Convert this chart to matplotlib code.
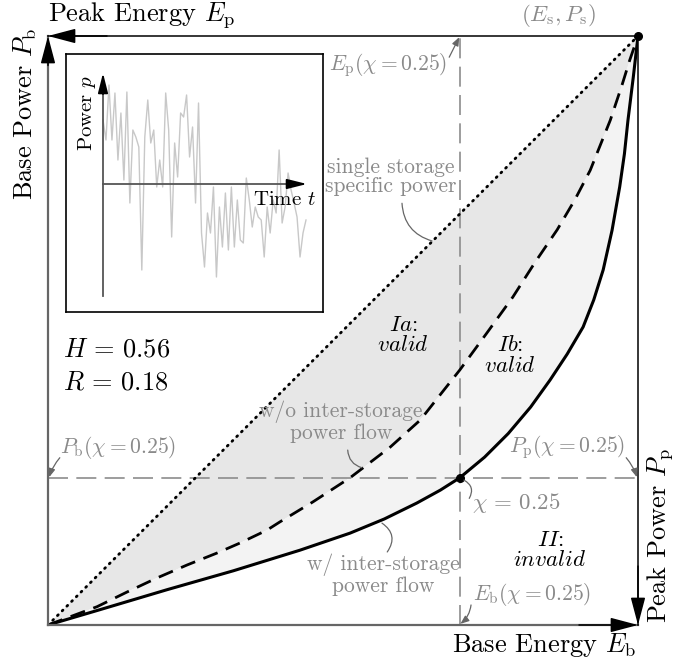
import numpy as np
import matplotlib
matplotlib.use("Agg")
import matplotlib.pyplot as plt

plt.rcParams['font.family'] = 'serif'
plt.rcParams['font.serif'] = ['cmr10']
plt.rcParams['mathtext.fontset'] = 'cm'
plt.rcParams['axes.formatter.use_mathtext'] = True

# normalised curves (x = base energy, y = base power)
single_x = [0.0, 1.0]
single_y = [0.0, 1.0]

noflow_x = [0.0, 0.083, 0.134, 0.185, 0.236, 0.286, 0.325, 0.371, 0.393, 0.449,
            0.512, 0.580, 0.631, 0.664, 0.698, 0.744, 0.788, 0.825, 0.863, 0.893,
            0.919, 0.953, 0.973, 0.986, 1.0]
noflow_y = [0.0, 0.031, 0.056, 0.080, 0.102, 0.122, 0.139, 0.161, 0.175, 0.209,
            0.250, 0.302, 0.348, 0.390, 0.433, 0.496, 0.557, 0.615, 0.671, 0.722,
            0.772, 0.857, 0.917, 0.959, 1.0]

flow_x = [0.0, 0.088, 0.202, 0.314, 0.427, 0.512, 0.570, 0.625, 0.665, 0.698,
          0.740, 0.780, 0.818, 0.851, 0.880, 0.907, 0.925, 0.941, 0.956, 0.969,
          0.977, 0.983, 0.992, 1.0]
flow_y = [0.0, 0.026, 0.060, 0.092, 0.127, 0.156, 0.180, 0.207, 0.229, 0.250,
          0.285, 0.325, 0.370, 0.416, 0.460, 0.506, 0.552, 0.603, 0.670, 0.744,
          0.800, 0.857, 0.930, 1.0]

chi_x = 0.698
chi_y = 0.25

# inset power signal (relative units, one sample every ~3 px)
power = [64, 44, 99, 44, 91, 24, 71, 4, 92, -19, 54, 47, 37, -86, 47, 84, 41, 54,
         -3, 24, -3, 91, 54, -53, 41, 7, 71, 67, 89, 27, 57, -19, 81, -49,
         -83, -29, -49, -3, -93, -23, -63, -9, -66, -3, -63, -16, -56, -59, 6, -16,
         -43, -23, -33, -36, -73, -23, -49, -16, -29, 34, -39, -23, 11, -6, -19,
         -33, -73, -49, -36]

gray_txt = '#8a8a8a'
gray_ln = '#666666'

fig = plt.figure(figsize=(6.97, 6.64), dpi=100)
ax = fig.add_axes([48/697, 39/664, 590/697, 589/664])
ax.set_xlim(0, 1)
ax.set_ylim(0, 1)
ax.axis('off')

# shaded regions
ax.fill(noflow_x, noflow_y, color='#e7e7e7', lw=0, zorder=1)
ax.fill(noflow_x + flow_x[::-1], noflow_y + flow_y[::-1], color='#f3f3f3', lw=0, zorder=1)

# chi = 0.25 guides
ax.axhline(chi_y, color='#8c8c8c', lw=1.2, dashes=(12, 5), zorder=2)
ax.axvline(chi_x, color='#8c8c8c', lw=1.2, dashes=(12, 5), zorder=2)

ax.plot(single_x, single_y, color='black', lw=2.0, ls=(0, (0.4, 2.0)),
        dash_capstyle='round', zorder=3)
ax.plot(noflow_x, noflow_y, color='black', lw=2.0, dashes=(5.5, 3.2), zorder=3)
ax.plot(flow_x, flow_y, color='black', lw=2.2, zorder=3)
ax.plot([1, chi_x], [1, chi_y], 'o', color='black', ms=5.5, zorder=5, clip_on=False)

# frame
ax.plot([0, 0], [0, 1], color=gray_ln, lw=1.6, clip_on=False, zorder=4)
ax.plot([0, 1], [0, 0], color=gray_ln, lw=1.6, clip_on=False, zorder=4)
ax.plot([0, 1], [1, 1], color='black', lw=1.1, clip_on=False, zorder=4)
ax.plot([1, 1], [0, 1], color='black', lw=1.1, clip_on=False, zorder=4)
head = dict(arrowstyle='-|>,head_length=1.7,head_width=0.45', color='black',
            lw=1.1, shrinkA=0, shrinkB=0)
ax.annotate('', xy=(0, 1), xytext=(0.1, 1), arrowprops=head, zorder=6)
ax.annotate('', xy=(0, 1), xytext=(0, 0.95), arrowprops=head, zorder=6)
ax.annotate('', xy=(1, 0), xytext=(0.9, 0), arrowprops=head, zorder=6)
ax.annotate('', xy=(1, 0), xytext=(1, 0.1), arrowprops=head, zorder=6)

# axis labels
big = 19
ax.text(0.0, 1.035, r'Peak Energy $E_\mathrm{p}$', fontsize=big, ha='left', va='center')
ax.text(-0.039, 1.015, r'Base Power $P_\mathrm{b}$', fontsize=big, ha='center', va='top',
        rotation=90)
ax.text(0.998, -0.034, r'Base Energy $E_\mathrm{b}$', fontsize=big, ha='right', va='center')
ax.text(1.037, 0.003, r'Peak Power $P_\mathrm{p}$', fontsize=big, ha='center', va='bottom',
        rotation=90)

# annotations
sm = 15.5
ax.text(0.929, 1.035, r'$(E_\mathrm{s}, P_\mathrm{s})$', fontsize=16.5, color=gray_txt,
        ha='right', va='center')
ax.text(0.676, 0.951, r'$E_\mathrm{p}(\chi=0.25)$', fontsize=sm, color=gray_txt,
        ha='right', va='center')
ax.text(0.693, 0.761, 'single storage\nspecific power', fontsize=sm, color=gray_txt,
        ha='right', va='center', ma='center', linespacing=1.0)
ax.text(0.497, 0.345, 'w/o inter-storage\npower flow', fontsize=sm, color=gray_txt,
        ha='center', va='center', linespacing=1.0)
ax.text(0.568, 0.085, 'w/ inter-storage\npower flow', fontsize=sm, color=gray_txt,
        ha='center', va='center', linespacing=1.0)
ax.text(0.020, 0.302, r'$P_\mathrm{b}(\chi=0.25)$', fontsize=sm, color=gray_txt,
        ha='left', va='center')
ax.text(0.978, 0.302, r'$P_\mathrm{p}(\chi=0.25)$', fontsize=sm, color=gray_txt,
        ha='right', va='center')
ax.text(0.719, 0.207, r'$\chi\,=\,0.25$', fontsize=16.5, color=gray_txt, ha='left',
        va='center')
ax.text(0.720, 0.051, r'$E_\mathrm{b}(\chi=0.25)$', fontsize=sm, color=gray_txt,
        ha='left', va='center')

it = 16.5
ax.text(0.602, 0.492, '$\\mathit{Ia}$:\n$\\mathit{valid}$', fontsize=it, ha='center',
        va='center', linespacing=1.05)
ax.text(0.783, 0.458, '$\\mathit{Ib}$:\n$\\mathit{valid}$', fontsize=it, ha='center',
        va='center', linespacing=1.05)
ax.text(0.851, 0.127, '$\\mathit{II}$:\n$\\mathit{invalid}$', fontsize=it, ha='center',
        va='center', linespacing=1.05)
ax.text(0.026, 0.467, r'$H\,=\,0.56$', fontsize=19, ha='left', va='center')
ax.text(0.026, 0.411, r'$R\,=\,0.18$', fontsize=19, ha='left', va='center')

conn = dict(arrowstyle='-', color=gray_ln, lw=0.9, shrinkA=0, shrinkB=0)
arr = dict(arrowstyle='-|>,head_length=0.5,head_width=0.2', color=gray_ln, lw=0.9,
           shrinkA=0, shrinkB=0)
links = [
    ((0.936, 1.035), (0.997, 1.005), conn, -0.4),
    ((0.680, 0.964), (0.697, 0.998), arr, 0.0),
    ((0.600, 0.716), (0.651, 0.652), conn, 0.35),
    ((0.508, 0.297), (0.532, 0.267), conn, 0.35),
    ((0.020, 0.284), (0.002, 0.251), arr, 0.1),
    ((0.980, 0.284), (0.998, 0.251), arr, -0.1),
    ((0.705, 0.246), (0.714, 0.215), conn, -0.5),
    ((0.575, 0.124), (0.566, 0.173), conn, 0.5),
    ((0.717, 0.034), (0.699, 0.002), arr, -0.2),
]
for start, end, style, rad in links:
    ax.annotate('', xy=end, xytext=start,
                arrowprops=dict(style, connectionstyle=f'arc3,rad={rad}'), zorder=6)

# inset with the power time series
ins = fig.add_axes([66/697, 352/664, 257/697, 258/664])
ins.set_xlim(-37, 220)
ins.set_ylim(-128, 130)
ins.set_xticks([])
ins.set_yticks([])
for sp in ins.spines.values():
    sp.set_linewidth(1.2)
t = np.linspace(0, 203, len(power))
ins.plot(t, power, color='#c8c8c8', lw=1.0, zorder=1)
ins.plot([0, 0], [-112, 100], color='#555555', lw=1.3, zorder=2)
ins.plot([0, 195], [0, 0], color='#555555', lw=1.3, zorder=2)
ihead = dict(arrowstyle='-|>,head_length=1.2,head_width=0.3', color='black', lw=1.3,
             shrinkA=0, shrinkB=0)
ins.annotate('', xy=(0, 111), xytext=(0, 90), arrowprops=ihead)
ins.annotate('', xy=(204, 0), xytext=(185, 0), arrowprops=ihead)
ins.text(-16, 109, r'Power $p$', fontsize=15, rotation=90, ha='center', va='top')
ins.text(150, -16, r'Time $t$', fontsize=15, ha='left', va='center')

fig.savefig('out.png', dpi=100)
